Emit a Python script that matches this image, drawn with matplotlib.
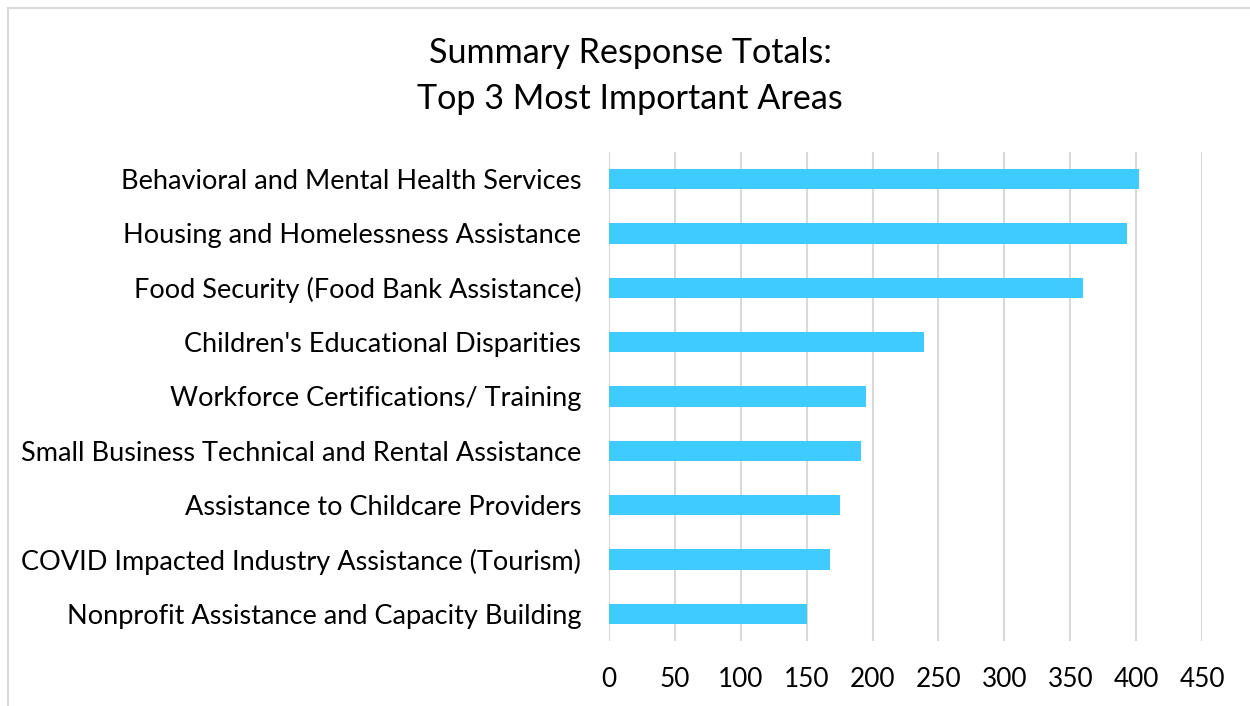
import matplotlib
matplotlib.use("Agg")
import matplotlib.pyplot as plt
from matplotlib.patches import Rectangle

categories = [
    "Behavioral and Mental Health Services",
    "Housing and Homelessness Assistance",
    "Food Security (Food Bank Assistance)",
    "Children's Educational Disparities",
    "Workforce Certifications/ Training",
    "Small Business Technical and Rental Assistance",
    "Assistance to Childcare Providers",
    "COVID Impacted Industry Assistance (Tourism)",
    "Nonprofit Assistance and Capacity Building",
]
values = [402, 393, 360, 239, 195, 191, 175, 168, 150]
xticks = [0, 50, 100, 150, 200, 250, 300, 350, 400, 450]

plt.rcParams['font.family'] = ['Lato', 'DejaVu Sans']

fig = plt.figure(figsize=(12.5, 7.06), dpi=100)
W, H = 1250, 706
ax = fig.add_axes([609 / W, 1 - 641 / H, (1202 - 609) / W, (641 - 152) / H])

ypos = list(range(len(categories)))
ax.barh(ypos, values, height=0.37, color="#40CBFF", zorder=3)
ax.set_ylim(len(categories) - 0.5, -0.5)
ax.set_xlim(0, 450)
ax.set_xticks(xticks)
ax.set_xticklabels([str(t) for t in xticks], fontsize=18.8)
ax.set_yticks(ypos)
ax.set_yticklabels(categories, fontsize=19.5)
ax.grid(axis="x", color="#D9D9D9", linewidth=1.5, zorder=0)
ax.tick_params(axis="both", length=0)
ax.tick_params(axis="x", pad=19)
ax.tick_params(axis="y", pad=20)
for s in ax.spines.values():
    s.set_visible(False)

fig.text(630 / W, 1 - 53 / H, "Summary Response Totals:", ha="center", va="center", fontsize=24.6)
fig.text(630 / W, 1 - 99 / H, "Top 3 Most Important Areas", ha="center", va="center", fontsize=24.6)

fig.patches.append(Rectangle((7.5 / W, -0.1), 1.2, 1 - 7.5 / H + 0.1, transform=fig.transFigure,
                             fill=False, edgecolor="#D9D9D9", linewidth=1.5))

fig.savefig("out.png", dpi=100)
